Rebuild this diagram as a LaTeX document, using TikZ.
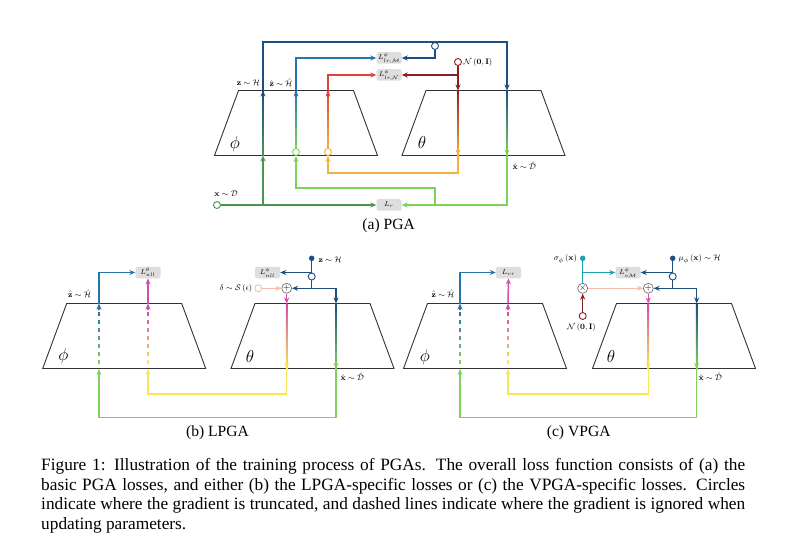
\documentclass[tikz,border=0pt]{standalone}
\usepackage{amsmath,amssymb}
\usepackage[no-math]{fontspec}
\setmainfont{Liberation Serif}
\usetikzlibrary{arrows.meta,calc}
\definecolor{cDG}{RGB}{74,150,80}
\definecolor{cLG}{RGB}{125,210,90}
\definecolor{cDB}{RGB}{28,78,128}
\definecolor{cMB}{RGB}{38,118,170}
\definecolor{cR}{RGB}{220,68,58}
\definecolor{cDR}{RGB}{140,32,32}
\definecolor{cO}{RGB}{244,178,60}
\definecolor{cY}{RGB}{247,232,84}
\definecolor{cM}{RGB}{212,78,178}
\definecolor{cS}{RGB}{246,188,168}
\definecolor{cT}{RGB}{26,160,180}
\tikzset{
 ln/.style={line width=1.5pt},
 arr/.style={ln,-{Stealth[length=6pt,width=5pt]}},
 trap/.style={draw=black!80, line width=0.9pt},
 lossbox/.style={fill=black!13, rounded corners=1.5pt, minimum width=25pt, minimum height=11.5pt, inner sep=0.5pt, font=\fontsize{7.5}{8}\selectfont},
 lbl/.style={font=\fontsize{8}{9}\selectfont, inner sep=0.5pt},
 tcirc/.style={circle, draw, fill=white, line width=0.9pt, minimum size=7pt, inner sep=0pt},
 fdot/.style={circle, fill, minimum size=5.5pt, inner sep=0pt},
 opnode/.style={circle, draw=black!55, fill=white, line width=0.7pt, minimum size=10pt, inner sep=0pt, font=\fontsize{9}{9}\selectfont},
 greek/.style={font=\fontsize{17}{19}\selectfont, inner sep=0pt},
 subcap/.style={font=\fontsize{15.6}{18}\selectfont, inner sep=0pt},
}
\newcommand\trapez[3]{\coordinate (#1) at (#2,#3);
 \draw[trap] ($(#1)+(-81.5,65)$) -- ($(#1)+(-57.5,0)$) -- ($(#1)+(57.5,0)$) -- ($(#1)+(81.5,65)$) -- cycle;}
\newcommand\gvert[4]{\shade[top color=#3,bottom color=#4] ($(#1)+(-0.75,0)$) rectangle ($(#2)+(0.75,0)$);}
\newcommand\gdash[4]{\foreach \k in {0,...,6}{\pgfmathsetmacro\ya{#2+8+\k*8}\pgfmathtruncatemacro\pc{100*\k/6}\fill[#4!\pc!#3] (#1-0.75,\ya) rectangle (#1+0.75,\ya+4.5);}}
\newcommand\upat[2]{\draw[arr,#2] ($(#1)+(0,6.5)$) -- (#1);}
\newcommand\downat[2]{\draw[arr,#2] ($(#1)+(0,-6.5)$) -- (#1);}
\begin{document}
\begin{tikzpicture}[x=1pt,y=-1pt]
\fill[white] (0,0) rectangle (787,548);
\useasboundingbox (0,0) rectangle (787,548);

% ================= (a) PGA =================
\trapez{phiA}{296}{90.5}
\trapez{thA}{483.5}{90.5}
\node[greek] (phiAl) at (235,144) {$\phi$};
\node[greek] (thAl) at (422,143) {$\theta$};
\node[tcirc, draw=cDG] (xD) at (217,205) {};
\node[lbl] (xDl) at (226,194) {$\mathbf{x}\sim\mathcal{D}$};
\node[lossbox] (Lr) at (389,205) {$L_r$};
\node[lossbox] (LM) at (389,58) {$L^{\phi}_{lr,\mathcal{M}}$};
\node[lossbox] (LN) at (389,75) {$L^{\phi}_{lr,\mathcal{N}}$};
\node[tcirc, draw=cLG] (cz) at (296,152) {};
\node[tcirc, draw=cO] (cn) at (328,152) {};
\node[tcirc, draw=cDB] (ct) at (435,46) {};
\node[tcirc, draw=cDR] (nA) at (458,62) {};
\node[lbl, anchor=west] (nAl) at (463,63) {$\mathcal{N}\left(\mathbf{0},\mathbf{I}\right)$};
\node[lbl] (zAl) at (248.3,83) {$\mathbf{z}\sim\mathcal{H}$};
\node[lbl] (zhAl) at (281,83) {$\hat{\mathbf{z}}\sim\hat{\mathcal{H}}$};
\node[lbl, anchor=west] (xhAl) at (512,166) {$\hat{\mathbf{x}}\sim\hat{\mathcal{D}}$};
\coordinate (a1) at (263,205);
\coordinate (a1b) at (263,155.5);
\coordinate (a1t) at (263,90.5);
\coordinate (a1u) at (263,42);
\coordinate (a2u) at (507,42);
\coordinate (a2t) at (507,90.5);
\coordinate (a2b) at (507,155.5);
\coordinate (a2d) at (507,205);
\coordinate (a3) at (435,205);
\coordinate (a3u) at (435,188);
\coordinate (zt) at (296,90.5);
\coordinate (zu) at (296,58);
\coordinate (nt) at (458,90.5);
\coordinate (nb) at (458,155.5);
\coordinate (nd) at (458,173);
\coordinate (rt) at (328,90.5);
\coordinate (ru) at (328,75);
% dark green / dark blue loop
\draw[arr,cDG] (xD.east) -- (Lr.west);
\draw[arr,cDG] (a1) -- (a1b);
\gvert{a1t}{a1b}{cDB}{cDG}
\upat{a1t}{cDB}
\draw[arr,cDB] (a1t) -- (a1u) -- (a2u) -- (a2t);
\gvert{a2t}{a2b}{cDB}{cLG}
\downat{a2b}{cLG}
\draw[arr,cLG] (a2b) -- (a2d) -- (Lr.east);
\draw[arr,cLG] (a3) -- (a3u) -- (cz |- a3u) -- (cz.south);
\gvert{zt}{cz.north}{cMB}{cLG}
\upat{zt}{cMB}
\draw[arr,cMB] (zt) -- (zu) -- (LM.west);
\draw[ln,cDB] (ct |- a1u) -- (ct.north);
\draw[arr,cDB] (ct.south) -- (ct |- LM) -- (LM.east);
% red / orange loop
\draw[arr,cDR] (nA.south) -- (nt);
\draw[arr,cDR] (nA |- LN) -- (LN.east);
\gvert{nt}{nb}{cDR}{cO}
\downat{nb}{cO}
\draw[arr,cO] (nb) -- (nd) -- (cn |- nd) -- (cn.south);
\gvert{rt}{cn.north}{cR}{cO}
\upat{rt}{cR}
\draw[arr,cR] (rt) -- (ru) -- (LN.west);
\node[subcap] (capA) at (388.7,226) {(a) PGA};

% ================= (b) LPGA =================
\trapez{phiB}{124.2}{303.5}
\trapez{thB}{312.5}{303.5}
\node[greek] (phiBl) at (63.5,356) {$\phi$};
\node[greek] (thBl) at (250,356) {$\theta$};
\node[lossbox] (LB1) at (148,272.5) {$L^{\theta}_{nll}$};
\node[lossbox] (LB2) at (267.5,272.5) {$L^{\phi}_{nll}$};
\node[fdot, fill=cDB] (zdB) at (311.7,258.3) {};
\node[tcirc, draw=cDB] (ctB) at (311.7,276.5) {};
\node[opnode] (opB) at (286.7,288.3) {$+$};
\node[tcirc, draw=cS] (sB) at (258.3,288.3) {};
\node[lbl] (zhBl) at (79.7,293.3) {$\hat{\mathbf{z}}\sim\hat{\mathcal{H}}$};
\node[lbl, anchor=west] (zBl) at (318,260) {$\mathbf{z}\sim\mathcal{H}$};
\node[lbl, anchor=east] (dBl) at (253,288.3) {$\delta\sim\mathcal{S}\left(\epsilon\right)$};
\node[lbl, anchor=west] (xhBl) at (340,377) {$\hat{\mathbf{x}}\sim\hat{\mathcal{D}}$};
\coordinate (b1t) at (99,303.5);
\coordinate (b1b) at (99,369);
\coordinate (b1d) at (99,417.3);
\coordinate (b2t) at (148,303.5);
\coordinate (b2b) at (148,369);
\coordinate (b2d) at (148,394);
\coordinate (b3t) at (286.7,303.5);
\coordinate (b3b) at (286.7,369);
\coordinate (b4s) at (311.7,288.3);
\coordinate (b5u) at (336,288.3);
\coordinate (b5t) at (336,303.5);
\coordinate (b5b) at (336,369);
\draw[arr,cLG] (b5b) -- (b5b |- b1d) -- (b1d) -- (b1b);
\gdash{99}{303.5}{cMB}{cLG}
\upat{b1t}{cMB}
\draw[arr,cMB] (b1t) -- (b1t |- LB1) -- (LB1.west);
\draw[arr,cY] (b3b) -- (b3b |- b2d) -- (b2d) -- (b2b);
\gdash{148}{303.5}{cM}{cY}
\upat{b2t}{cM}
\draw[arr,cM] (b2t) -- (LB1.south);
\draw[ln,cDB] (zdB) -- (ctB.north);
\draw[arr,cDB] (zdB |- LB2) -- (LB2.east);
\draw[arr,cDB] (ctB.south) -- (b4s) -- (opB.east);
\draw[arr,cDB] (b4s) -- (b5u) -- (b5t);
\gvert{b5t}{b5b}{cDB}{cLG}
\downat{b5b}{cLG}
\draw[arr,cS] (sB.east) -- (opB.west);
\draw[arr,cM] (opB.south) -- (b3t);
\gvert{b3t}{b3b}{cM}{cY}
\downat{b3b}{cY}
\node[subcap] (capB) at (217.5,433) {(b) LPGA};

% ================= (c) VPGA =================
\trapez{phiC}{485}{303.5}
\trapez{thC}{674}{303.5}
\node[greek] (phiCl) at (425,357) {$\phi$};
\node[greek] (thCl) at (611,356) {$\theta$};
\node[lossbox] (LC1) at (508.5,272.5) {$L_{vr}$};
\node[lossbox] (LC2) at (628,272.5) {$L^{\phi}_{v\mathcal{M}}$};
\node[fdot, fill=cDB] (muC) at (672.7,258.3) {};
\node[tcirc, draw=cDB] (ctC) at (672.7,276.5) {};
\node[opnode] (opC) at (648.3,288.3) {$+$};
\node[opnode] (otC) at (582.7,288.3) {$\times$};
\node[fdot, fill=cT] (sgC) at (582.7,258.3) {};
\node[tcirc, draw=cDR] (nC) at (582.7,316) {};
\node[lbl, anchor=east] (sgCl) at (577.5,259) {$\sigma_{\phi}\left(\mathbf{x}\right)$};
\node[lbl, anchor=west] (muCl) at (678,259) {$\mu_{\phi}\left(\mathbf{x}\right)\sim\mathcal{H}$};
\node[lbl] (nCl) at (581.5,327) {$\mathcal{N}\left(\mathbf{0},\mathbf{I}\right)$};
\node[lbl] (zhCl) at (443,293.3) {$\hat{\mathbf{z}}\sim\hat{\mathcal{H}}$};
\node[lbl, anchor=west] (xhCl) at (698,377) {$\hat{\mathbf{x}}\sim\hat{\mathcal{D}}$};
\coordinate (c1t) at (460,303.5);
\coordinate (c1b) at (460,369);
\coordinate (c1d) at (460,417.3);
\coordinate (c2t) at (508,303.5);
\coordinate (c2b) at (508,369);
\coordinate (c2d) at (508,394);
\coordinate (c3t) at (648.3,303.5);
\coordinate (c3b) at (648.3,369);
\coordinate (c4s) at (672.7,288.3);
\coordinate (c5u) at (696.7,288.3);
\coordinate (c5t) at (696.7,303.5);
\coordinate (c5b) at (696.7,369);
\draw[arr,cLG] (c5b) -- (c5b |- c1d) -- (c1d) -- (c1b);
\gdash{460}{303.5}{cMB}{cLG}
\upat{c1t}{cMB}
\draw[arr,cMB] (c1t) -- (c1t |- LC1) -- (LC1.west);
\draw[arr,cY] (c3b) -- (c3b |- c2d) -- (c2d) -- (c2b);
\gdash{508}{303.5}{cM}{cY}
\upat{c2t}{cM}
\draw[arr,cM] (c2t) -- (LC1.south);
\draw[ln,cDB] (muC) -- (ctC.north);
\draw[arr,cDB] (muC |- LC2) -- (LC2.east);
\draw[arr,cDB] (ctC.south) -- (c4s) -- (opC.east);
\draw[arr,cDB] (c4s) -- (c5u) -- (c5t);
\gvert{c5t}{c5b}{cDB}{cLG}
\downat{c5b}{cLG}
\draw[ln,cT] (sgC) -- (otC.north);
\draw[arr,cT] (sgC |- LC2) -- (LC2.west);
\draw[arr,cDR] (nC.north) -- (otC.south);
\draw[arr,cS] (otC.east) -- (opC.west);
\draw[arr,cM] (opC.south) -- (c3t);
\gvert{c3t}{c3b}{cM}{cY}
\downat{c3b}{cY}
\node[subcap] (capC) at (578.7,433) {(c) VPGA};

% ================= caption =================
\node[anchor=north west, inner sep=0pt, text width=704pt, align=justify, font=\fontsize{17.3}{19.8}\selectfont] (cap) at (41,458)
{Figure 1: Illustration of the training process of PGAs. The overall loss function consists of (a) the\linebreak
basic PGA losses, and either (b) the LPGA-specific losses or (c) the VPGA-specific losses. Circles\linebreak
indicate where the gradient is truncated, and dashed lines indicate where the gradient is ignored when\linebreak
updating parameters.};
\end{tikzpicture}
\end{document}
